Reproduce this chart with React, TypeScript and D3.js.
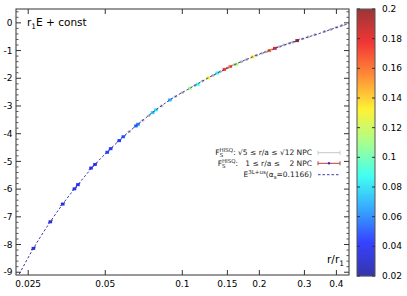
import React from "react";
import * as d3 from "d3";

// ---- data ----
const xTicks = [0.025, 0.05, 0.1, 0.15, 0.2, 0.3, 0.4];
const xTickLabels = ["0.025", "0.05", "0.1", "0.15", "0.2", "0.3", "0.4"];
const yTicks = [0, -1, -2, -3, -4, -5, -6, -7, -8, -9];
const cbTicks = [0.02, 0.04, 0.06, 0.08, 0.1, 0.12, 0.14, 0.16, 0.18, 0.2];
const cbTickLabels = ["0.02", "0.04", "0.06", "0.08", "0.1", "0.12", "0.14", "0.16", "0.18", "0.2"];

// series 1: F_S^HISQ sqrt5<=r/a<=sqrt12 (grey)
const greyX = [0.062, 0.070, 0.074, 0.083, 0.094, 0.100, 0.112, 0.120, 0.132, 0.141, 0.150, 0.160, 0.170, 0.178, 0.195, 0.205, 0.212, 0.240, 0.250, 0.262, 0.270, 0.295, 0.310, 0.330, 0.360, 0.380, 0.400, 0.420];
const greyY = [-3.93, -3.52, -3.35, -3.00, -2.66, -2.52, -2.26, -2.10, -1.90, -1.76, -1.63, -1.51, -1.41, -1.33, -1.17, -1.10, -1.05, -0.86, -0.80, -0.74, -0.70, -0.58, -0.51, -0.43, -0.31, -0.24, -0.16, -0.09];

// series 2: F_S^HISQ 1<=r/a<=2 (coloured by palette value)
const colX = [0.0262, 0.0305, 0.0341, 0.0379, 0.0391, 0.0440, 0.0456, 0.0509, 0.0525, 0.0567, 0.0588, 0.0659, 0.0671, 0.0766, 0.0789, 0.0895, 0.107, 0.115, 0.126, 0.137, 0.146, 0.154, 0.163, 0.188, 0.219, 0.230, 0.281];
const colY = [-8.14, -7.18, -6.54, -5.99, -5.84, -5.24, -5.11, -4.67, -4.54, -4.25, -4.11, -3.72, -3.66, -3.24, -3.14, -2.78, -2.36, -2.22, -1.99, -1.81, -1.68, -1.58, -1.49, -1.23, -1.00, -0.92, -0.64];
const colZ = [0.035, 0.035, 0.035, 0.04, 0.04, 0.04, 0.04, 0.045, 0.045, 0.045, 0.05, 0.055, 0.06, 0.075, 0.08, 0.07, 0.11, 0.09, 0.13, 0.085, 0.17, 0.16, 0.115, 0.135, 0.16, 0.18, 0.2];

// E^{3L+us} curve
const curveX = [0.02305, 0.0262, 0.0305, 0.0341, 0.0391, 0.0456, 0.0525, 0.0588, 0.0671, 0.0789, 0.0895, 0.107, 0.126, 0.154, 0.188, 0.230, 0.281, 0.345, 0.436, 0.448];
const curveY = [-9.07, -8.14, -7.18, -6.54, -5.84, -5.11, -4.54, -4.11, -3.66, -3.14, -2.78, -2.36, -1.99, -1.58, -1.23, -0.92, -0.64, -0.375, -0.06, -0.03];

const paletteColors = ["#000090", "#000fff", "#0090ff", "#0fffee", "#90ff70", "#ffee00", "#ff7000", "#ee0000", "#7f0000"];

const W = 407, H = 296;
const L = 16, R = 349, T = 9, B = 275;
const FONT = "DejaVu Sans, sans-serif";

export default function App() {
  const x = d3.scaleLog().domain([0.0224, 0.448]).range([L, R]);
  const y = d3.scaleLinear().domain([-9.1, 0.5]).range([B, T]);
  const cbY = d3.scaleLinear().domain([0.02, 0.2]).range([276, 9]);
  const pal = d3
    .scaleLinear<string>()
    .domain(paletteColors.map((_, i) => 0.02 + (i * 0.18) / (paletteColors.length - 1)))
    .range(paletteColors)
    .interpolate(d3.interpolateRgb)
    .clamp(true);

  const line = d3
    .line<number>()
    .x((_, i) => x(curveX[i]))
    .y((d) => y(d))
    .curve(d3.curveMonotoneX);

  const yMinor = d3.range(-9, 0.5 + 1e-9, 0.2).filter((v) => Math.abs(v - Math.round(v)) > 1e-6);

  const cbStrips = d3.range(0, 267, 1);

  return (
    <svg width={W} height={H} style={{ position: "absolute", left: 0, top: 0, background: "#fff" }} fontFamily={FONT}>
      {/* grey points */}
      <g>
        {greyX.map((v, i) => (
          <g key={"g" + i}>
            <line x1={x(v) - 2} x2={x(v) + 2} y1={y(greyY[i])} y2={y(greyY[i])} stroke="#c8c8c8" strokeWidth={1} />
            <circle cx={x(v)} cy={y(greyY[i])} r={1.4} fill="#b8b8b8" />
          </g>
        ))}
      </g>
      {/* coloured points */}
      <g>
        {colX.map((v, i) => (
          <g key={"c" + i} opacity={0.85}>
            <line x1={x(v) - 2.4} x2={x(v) + 2.4} y1={y(colY[i]) + 1.6} y2={y(colY[i]) - 1.6} stroke={pal(colZ[i])} strokeWidth={1} />
            <rect x={x(v) - 1.8} y={y(colY[i]) - 1.5} width={3.6} height={3} fill={pal(colZ[i])} />
          </g>
        ))}
      </g>
      {/* curve */}
      <path d={line(curveY) || ""} fill="none" stroke="#3a3ab0" strokeWidth={1} strokeDasharray="2.5,2" />

      {/* border */}
      <rect x={L} y={T} width={R - L} height={B - T} fill="none" stroke="#333" strokeWidth={1} />
      {/* y ticks */}
      {yTicks.map((v) => (
        <g key={"yt" + v}>
          <line x1={L} x2={L + 5} y1={y(v)} y2={y(v)} stroke="#333" />
          <line x1={R} x2={R - 5} y1={y(v)} y2={y(v)} stroke="#333" />
          <text x={12.5} y={y(v)} dy="0.35em" textAnchor="end" fontSize={9} fill="#000">
            {v === 0 ? "0" : "-" + Math.abs(v)}
          </text>
        </g>
      ))}
      {yMinor.map((v, i) => (
        <g key={"ym" + i}>
          <line x1={L} x2={L + 2.5} y1={y(v)} y2={y(v)} stroke="#555" />
          <line x1={R} x2={R - 2.5} y1={y(v)} y2={y(v)} stroke="#555" />
        </g>
      ))}
      {/* x ticks */}
      {xTicks.map((v, i) => (
        <g key={"xt" + v}>
          <line x1={x(v)} x2={x(v)} y1={B} y2={B - 5} stroke="#333" />
          <line x1={x(v)} x2={x(v)} y1={T} y2={T + 5} stroke="#333" />
          <text x={x(v)} y={287} textAnchor="middle" fontSize={9} fill="#000">
            {xTickLabels[i]}
          </text>
        </g>
      ))}

      {/* axis labels */}
      <text x={27} y={26} fontSize={10.5} fill="#000">
        r<tspan fontSize={7.5} dy={3}>1</tspan>
        <tspan dy={-3}>E + const</tspan>
      </text>
      <text x={344} y={263} textAnchor="end" fontSize={10.5} fill="#000">
        r/r<tspan fontSize={7.5} dy={3}>1</tspan>
      </text>

      {/* legend */}
      <g fontSize={7.5} fill="#222">
        <text x={312} y={155.3} textAnchor="end">
          F<tspan fontSize={5.5} dy={-3}>HISQ</tspan>
          <tspan fontSize={5.5} dx={-13.5} dy={5}>S</tspan>
          <tspan dx={10} dy={-2}>: √5 ≤ r/a ≤ √12 NPC</tspan>
        </text>
        <text x={312} y={166} textAnchor="end">
          F<tspan fontSize={5.5} dy={-3}>HISQ</tspan>
          <tspan fontSize={5.5} dx={-13.5} dy={5}>S</tspan>
          <tspan dx={10} dy={-2} style={{ whiteSpace: "pre" }}>{":   1 ≤ r/a ≤    2 NPC"}</tspan>
        </text>
        <text x={312} y={177.3} textAnchor="end">
          E<tspan fontSize={5.5} dy={-3}>3L+us</tspan>
          <tspan dy={3}>(α</tspan>
          <tspan fontSize={5.5} dy={1.5}>s</tspan>
          <tspan dy={-1.5}>=0.1166)</tspan>
        </text>
      </g>
      <g>
        <line x1={318} x2={340} y1={152.7} y2={152.7} stroke="#c8c8c8" />
        <line x1={318} x2={318} y1={150.7} y2={154.7} stroke="#c8c8c8" />
        <line x1={340} x2={340} y1={150.7} y2={154.7} stroke="#c8c8c8" />
        <line x1={318} x2={340} y1={163.3} y2={163.3} stroke="#b84040" />
        <line x1={318} x2={318} y1={161.3} y2={165.3} stroke="#b84040" />
        <line x1={340} x2={340} y1={161.3} y2={165.3} stroke="#b84040" />
        <circle cx={329} cy={163.3} r={1.2} fill="#3030c0" />
        <line x1={318} x2={340} y1={174.7} y2={174.7} stroke="#3a3ab0" strokeDasharray="2.5,2" />
      </g>

      {/* colorbar */}
      <g>
        {cbStrips.map((k) => {
          const v = cbY.invert(276 - k - 0.5);
          return <rect key={"cb" + k} x={357} y={276 - k - 1} width={18} height={1.2} fill={pal(v)} fillOpacity={0.75} />;
        })}
        <rect x={357} y={9} width={18} height={267} fill="none" stroke="#555" strokeWidth={1} />
        {cbTicks.map((v, i) => (
          <g key={"cbt" + i}>
            <line x1={357} x2={360} y1={cbY(v)} y2={cbY(v)} stroke="#333" />
            <line x1={375} x2={372} y1={cbY(v)} y2={cbY(v)} stroke="#333" />
            <text x={382} y={cbY(v)} dy="0.35em" fontSize={9} fill="#000">
              {cbTickLabels[i]}
            </text>
          </g>
        ))}
      </g>
    </svg>
  );
}
